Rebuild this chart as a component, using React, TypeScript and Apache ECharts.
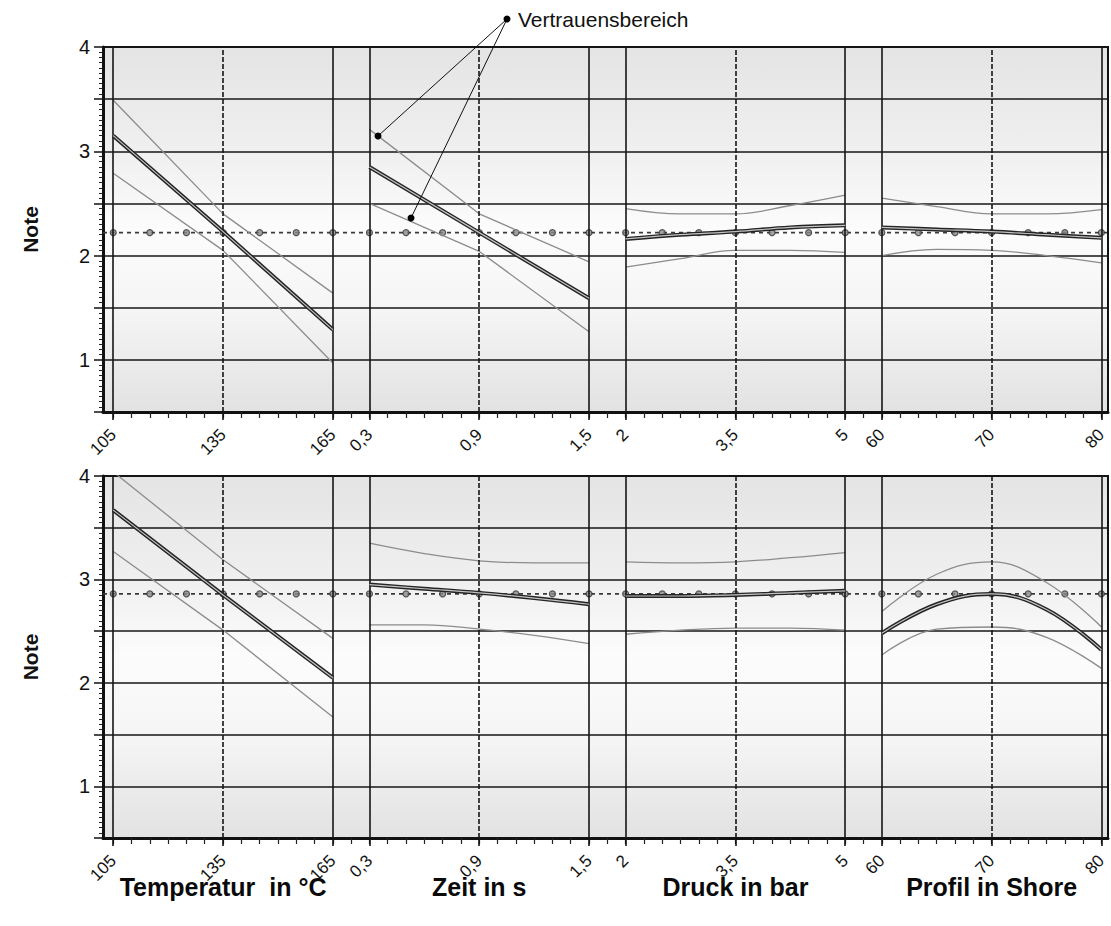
import React, { useEffect, useRef } from "react";
import * as echarts from "echarts";

// ---------- axis layout of the four factor panels ----------
const factorTitles = ["Temperatur  in °C", "Zeit in s", "Druck in bar", "Profil in Shore"];
const factorRanges = [
  [105, 165],
  [0.3, 1.5],
  [2, 5],
  [60, 80],
];
const factorTicks = [
  [105, 135, 165],
  [0.3, 0.9, 1.5],
  [2, 3.5, 5],
  [60, 70, 80],
];
const factorTickLabels = [
  ["105", "135", "165"],
  ["0,3", "0,9", "1,5"],
  ["2", "3,5", "5"],
  ["60", "70", "80"],
];
// levels where the mean line carries a marker
const markerLevels = [
  [105, 115, 125, 135, 145, 155, 165],
  [0.3, 0.5, 0.7, 0.9, 1.1, 1.3, 1.5],
  [2, 2.5, 3, 3.5, 4, 4.5, 5],
  [60, 63.33, 66.67, 70, 73.33, 76.67, 80],
];
const yTicks = [0.5, 1, 1.5, 2, 2.5, 3, 3.5, 4];

// ---------- upper chart ----------
const topMean = 2.22;
const topTempX = [105, 135, 165];
const topTempMain = [3.15, 2.23, 1.29];
const topTempUpper = [3.49, 2.4, 1.64];
const topTempLower = [2.79, 2.05, 0.97];

const topZeitX = [0.3, 0.9, 1.5];
const topZeitMain = [2.85, 2.22, 1.59];
const topZeitUpper = [3.21, 2.4, 1.94];
const topZeitLower = [2.5, 2.04, 1.27];

const topDruckX = [2, 2.75, 3.5, 4.25, 5];
const topDruckMain = [2.16, 2.2, 2.23, 2.27, 2.29];
const topDruckUpper = [2.45, 2.4, 2.4, 2.48, 2.58];
const topDruckLower = [1.89, 1.97, 2.05, 2.05, 2.03];

const topProfilX = [60, 65, 70, 75, 80];
const topProfilMain = [2.27, 2.25, 2.23, 2.2, 2.17];
const topProfilUpper = [2.55, 2.47, 2.4, 2.4, 2.44];
const topProfilLower = [2.0, 2.06, 2.05, 2.0, 1.93];

// ---------- lower chart ----------
const botMean = 2.86;
const botTempX = [105, 135, 165];
const botTempMain = [3.67, 2.85, 2.05];
const botTempUpper = [4.04, 3.19, 2.43];
const botTempLower = [3.27, 2.51, 1.67];

const botZeitX = [0.3, 0.6, 0.9, 1.2, 1.5];
const botZeitMain = [2.95, 2.91, 2.87, 2.82, 2.76];
const botZeitUpper = [3.35, 3.25, 3.18, 3.16, 3.16];
const botZeitLower = [2.56, 2.56, 2.52, 2.46, 2.38];

const botDruckX = [2, 2.75, 3.5, 4.25, 5];
const botDruckMain = [2.84, 2.84, 2.85, 2.87, 2.89];
const botDruckUpper = [3.17, 3.16, 3.17, 3.21, 3.26];
const botDruckLower = [2.47, 2.51, 2.53, 2.53, 2.51];

const botProfilX = [60, 65, 70, 75, 80];
const botProfilMain = [2.48, 2.76, 2.86, 2.71, 2.32];
const botProfilUpper = [2.69, 3.05, 3.17, 2.97, 2.54];
const botProfilLower = [2.27, 2.52, 2.54, 2.44, 2.14];

// ---------- composite x axis ----------
const PANEL_OFFSETS = [0, 14, 28, 42];
const PANEL_SPAN = 12;
const X_MIN = -0.56;
const X_MAX = 54.36;

const toV = (p: number, v: number) =>
  PANEL_OFFSETS[p] + ((v - factorRanges[p][0]) / (factorRanges[p][1] - factorRanges[p][0])) * PANEL_SPAN;

const FONT = "'Liberation Sans', Arial, sans-serif";

type PanelData = { x: number[]; main: number[]; upper: number[]; lower: number[] };

const topPanels: PanelData[] = [
  { x: topTempX, main: topTempMain, upper: topTempUpper, lower: topTempLower },
  { x: topZeitX, main: topZeitMain, upper: topZeitUpper, lower: topZeitLower },
  { x: topDruckX, main: topDruckMain, upper: topDruckUpper, lower: topDruckLower },
  { x: topProfilX, main: topProfilMain, upper: topProfilUpper, lower: topProfilLower },
];
const botPanels: PanelData[] = [
  { x: botTempX, main: botTempMain, upper: botTempUpper, lower: botTempLower },
  { x: botZeitX, main: botZeitMain, upper: botZeitUpper, lower: botZeitLower },
  { x: botDruckX, main: botDruckMain, upper: botDruckUpper, lower: botDruckLower },
  { x: botProfilX, main: botProfilMain, upper: botProfilUpper, lower: botProfilLower },
];

function buildOption() {
  const labelMap: Record<string, string> = {};
  const labelPos: number[] = [];
  const vlines: { pos: number; dashed: boolean }[] = [];
  factorTicks.forEach((ticks, p) => {
    ticks.forEach((t, i) => {
      const v = toV(p, t);
      labelPos.push(v);
      labelMap[v.toFixed(3)] = factorTickLabels[p][i];
      vlines.push({ pos: v, dashed: i === 1 });
    });
  });
  const minorPos: number[] = [];
  for (let i = 0; i <= 54; i++) minorPos.push(i);
  const titlePos = PANEL_OFFSETS.map((o) => o + PANEL_SPAN / 2);
  const titleMap: Record<string, string> = {};
  titlePos.forEach((v, i) => (titleMap[v.toFixed(3)] = factorTitles[i]));

  const grids = [
    { left: 103, top: 47, width: 1005, height: 365 },
    { left: 103, top: 476, width: 1005, height: 362 },
  ];

  const bg = {
    type: "linear",
    x: 0,
    y: 0,
    x2: 0,
    y2: 1,
    colorStops: [
      { offset: 0, color: "#e4e4e4" },
      { offset: 0.3, color: "#f0f0f0" },
      { offset: 0.5, color: "#fcfcfc" },
      { offset: 0.72, color: "#f5f5f5" },
      { offset: 1, color: "#e2e2e2" },
    ],
  };

  const xAxis: any[] = [];
  const yAxis: any[] = [];
  grids.forEach((_, g) => {
    xAxis.push({
      gridIndex: g,
      type: "value",
      position: "bottom",
      min: X_MIN,
      max: X_MAX,
      axisLine: { show: true, onZero: false, lineStyle: { color: "#111", width: 3 } },
      axisTick: { show: true, customValues: minorPos, length: 6, lineStyle: { color: "#222", width: 1.2 } },
      axisLabel: { show: false },
      splitLine: { show: false },
    });
    xAxis.push({
      gridIndex: g,
      type: "value",
      position: "bottom",
      min: X_MIN,
      max: X_MAX,
      axisLine: { show: false, onZero: false },
      axisTick: { show: true, customValues: labelPos, length: 8, lineStyle: { color: "#111", width: 1.6 } },
      axisLabel: {
        show: true,
        customValues: labelPos,
        rotate: 45,
        margin: 20,
        fontSize: 17,
        color: "#111",
        fontFamily: FONT,
        formatter: (v: number) => labelMap[v.toFixed(3)] ?? "",
      },
      splitLine: { show: false },
    });
    yAxis.push({
      gridIndex: g,
      type: "value",
      position: "left",
      min: 0.5,
      max: 4,
      interval: 0.5,
      name: "Note",
      nameLocation: "middle",
      nameRotate: 90,
      nameGap: 62,
      nameTextStyle: { fontSize: 21, fontWeight: "bold", color: "#111", fontFamily: FONT },
      axisLine: { show: true, onZero: false, lineStyle: { color: "#111", width: 3 } },
      axisTick: { show: true, length: 9, lineStyle: { color: "#111", width: 1.5 } },
      minorTick: { show: true, splitNumber: 10, length: 4, lineStyle: { color: "#222", width: 1 } },
      axisLabel: {
        show: true,
        margin: 13,
        fontSize: 20,
        color: "#111",
        fontFamily: FONT,
        formatter: (v: number) => (yTicks.includes(v) && Math.abs(v - Math.round(v)) < 1e-6 ? String(Math.round(v)) : ""),
      },
      splitLine: { show: true, lineStyle: { color: "#161616", width: 1.6 } },
      minorSplitLine: { show: false },
    });
  });
  // factor titles below the lower chart
  xAxis.push({
    gridIndex: 1,
    type: "value",
    position: "bottom",
    min: X_MIN,
    max: X_MAX,
    axisLine: { show: false, onZero: false },
    axisTick: { show: false, customValues: titlePos },
    axisLabel: {
      show: true,
      customValues: titlePos,
      margin: 36,
      fontSize: 25,
      fontWeight: "bold",
      color: "#0a0a0a",
      fontFamily: FONT,
      formatter: (v: number) => titleMap[v.toFixed(3)] ?? "",
    },
    splitLine: { show: false },
  });

  const series: any[] = [];
  const addChart = (g: number, panels: PanelData[], mean: number) => {
    const xi = g * 2;
    // mean line carrying the vertical grid lines
    series.push({
      type: "line",
      xAxisIndex: xi,
      yAxisIndex: g,
      data: [
        [X_MIN, mean],
        [X_MAX, mean],
      ],
      symbol: "none",
      silent: true,
      z: 2,
      lineStyle: { color: "#3a3a3a", width: 1.6, type: [4, 4] },
      markLine: {
        silent: true,
        symbol: ["none", "none"],
        label: { show: false },
        animation: false,
        data: vlines.map((l) => ({
          xAxis: l.pos,
          lineStyle: { color: "#161616", width: 1.6, type: l.dashed ? [5, 2] : "solid" },
        })),
      },
    });
    const markers: number[][] = [];
    markerLevels.forEach((lv, p) => lv.forEach((v) => markers.push([toV(p, v), mean])));
    series.push({
      type: "scatter",
      xAxisIndex: xi,
      yAxisIndex: g,
      data: markers,
      symbol: "circle",
      symbolSize: 6,
      silent: true,
      z: 3,
      itemStyle: { color: "#8a8a8a", borderColor: "#333", borderWidth: 1.2 },
    });
    panels.forEach((pd, p) => {
      const pts = (ys: number[]) => pd.x.map((x, i) => [toV(p, x), ys[i]]);
      const curved = p >= 2 || (p === 1 && g === 1);
      [pd.upper, pd.lower].forEach((ys) =>
        series.push({
          type: "line",
          xAxisIndex: xi,
          yAxisIndex: g,
          data: pts(ys),
          symbol: "none",
          smooth: curved ? 0.4 : false,
          silent: true,
          clip: true,
          z: 4,
          lineStyle: { color: "#8c8c8c", width: 1.3 },
        })
      );
      series.push({
        type: "line",
        xAxisIndex: xi,
        yAxisIndex: g,
        data: pts(pd.main),
        symbol: "none",
        smooth: curved ? 0.4 : false,
        silent: true,
        z: 5,
        lineStyle: { color: "#242424", width: 4 },
      });
      series.push({
        type: "line",
        xAxisIndex: xi,
        yAxisIndex: g,
        data: pts(pd.main),
        symbol: "none",
        smooth: curved ? 0.4 : false,
        silent: true,
        z: 6,
        lineStyle: { color: "#c4c4c4", width: 1.2 },
      });
    });
  };
  addChart(0, topPanels, topMean);
  addChart(1, botPanels, botMean);

  const ann = { stroke: "#111", lineWidth: 1 };
  return {
    animation: false,
    backgroundColor: "#ffffff",
    grid: grids.map((gr) => ({
      ...gr,
      show: true,
      backgroundColor: bg,
      borderColor: "#111",
      borderWidth: 2,
      containLabel: false,
    })),
    xAxis,
    yAxis,
    series,
    graphic: [
      { type: "line", shape: { x1: 507, y1: 19, x2: 378, y2: 136 }, style: ann, z: 100 },
      { type: "line", shape: { x1: 507, y1: 19, x2: 411, y2: 218 }, style: ann, z: 100 },
      { type: "circle", shape: { cx: 507, cy: 19, r: 3.5 }, style: { fill: "#000" }, z: 101 },
      { type: "circle", shape: { cx: 378, cy: 136, r: 3.5 }, style: { fill: "#000" }, z: 101 },
      { type: "circle", shape: { cx: 411, cy: 218, r: 3.5 }, style: { fill: "#000" }, z: 101 },
      {
        type: "text",
        x: 518,
        y: 19,
        z: 101,
        style: {
          text: "Vertrauensbereich",
          fontSize: 21,
          fontFamily: FONT,
          fill: "#111",
          verticalAlign: "middle",
          align: "left",
        },
      },
    ],
  };
}

export default function App() {
  const ref = useRef<HTMLDivElement>(null);
  useEffect(() => {
    if (!ref.current) return;
    const chart = echarts.init(ref.current, undefined, { renderer: "svg" });
    chart.setOption(buildOption() as any);
    return () => chart.dispose();
  }, []);
  return (
    <div
      ref={ref}
      style={{ position: "absolute", left: 0, top: 0, width: 1111, height: 926, background: "#fff" }}
    />
  );
}
